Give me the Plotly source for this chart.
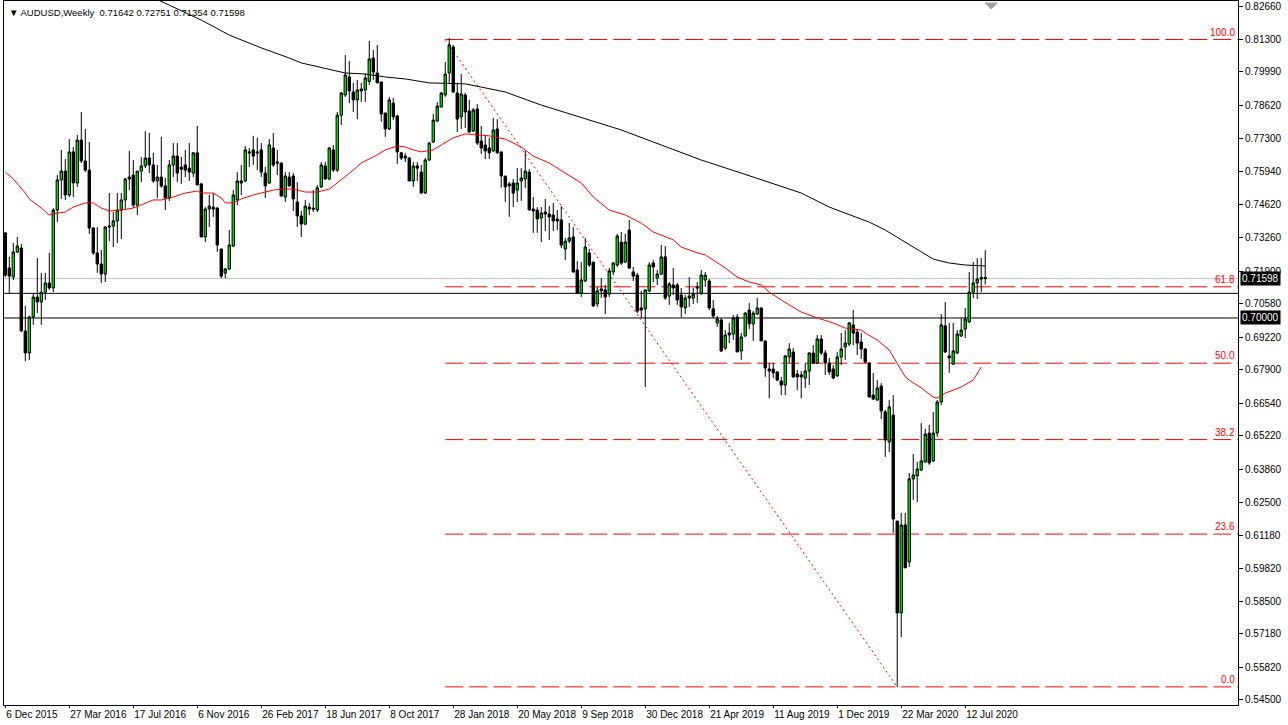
import plotly.graph_objects as go

# ---------------- data (AUDUSD weekly) ----------------
week_index = list(range(246))

opens = [.7345,.7203,.7166,.7268,.7284,.6947,.6858,.7004,.7085,.7065,.7105,.7142,.7122,.7438,.7560,.7596,.7499,.7674,.7548,.7722,
.7637,.7600,.7365,.7264,.7219,.7178,.7369,.7373,.7394,.7438,.7479,.7564,.7580,.7458,.7596,.7617,.7649,.7621,.7556,.7572,
.7536,.7487,.7621,.7657,.7612,.7621,.7608,.7588,.7670,.7544,.7329,.7442,.7450,.7446,.7280,.7182,.7199,.7292,.7479,.7556,
.7556,.7674,.7682,.7674,.7682,.7588,.7548,.7690,.7633,.7629,.7491,.7572,.7576,.7471,.7414,.7381,.7450,.7446,.7438,.7532,
.7617,.7564,.7682,.7600,.7823,.7905,.7978,.7917,.7885,.7921,.7925,.7960,.8055,.7994,.7958,.7832,.7767,.7872,.7820,.7670,
.7649,.7649,.7556,.7617,.7592,.7507,.7641,.7714,.7799,.7856,.7905,.7994,.8100,.7913,.7816,.7905,.7840,.7759,.7848,.7718,
.7702,.7690,.7678,.7767,.7674,.7576,.7544,.7548,.7519,.7556,.7564,.7592,.7442,.7438,.7406,.7422,.7422,.7418,.7402,.7398,
.7280,.7312,.7329,.7195,.7101,.7150,.7264,.7227,.7057,.7110,.7114,.7097,.7187,.7215,.7308,.7227,.7357,.7187,.7174,.7041,
.7037,.7110,.7223,.7162,.7178,.7248,.7089,.7134,.7134,.7093,.7041,.7081,.7081,.7126,.7101,.7154,.7150,.7037,.6980,.6992,
.6878,.6931,.6935,.7004,.6866,.6927,.7032,.6976,.7016,.7041,.6907,.6793,.6793,.6781,.6744,.6728,.6842,.6862,.6773,.6769,
.6756,.6785,.6858,.6817,.6915,.6858,.6817,.6793,.6765,.6842,.6882,.6894,.6972,.6943,.6903,.6874,.6817,.6687,.6667,.6724,
.6619,.6497,.6606,.6176,.5803,.6160,.6010,.6347,.6359,.6383,.6416,.6533,.6420,.6533,.6659,.6968,.6846,.6813,.6858,.6927,
.6955,.6984,.7105,.7142,.7158,.71642]

highs = [.7349,.7248,.7304,.7329,.7300,.7049,.7010,.7101,.7243,.7183,.7183,.7264,.7446,.7580,.7682,.7645,.7726,.7694,.7743,.7836,
.7767,.7714,.7369,.7369,.7276,.7373,.7507,.7430,.7507,.7507,.7568,.7678,.7641,.7596,.7653,.7759,.7751,.7670,.7621,.7735,
.7568,.7641,.7710,.7710,.7653,.7682,.7710,.7674,.7779,.7548,.7450,.7499,.7507,.7450,.7280,.7203,.7357,.7519,.7592,.7621,
.7698,.7690,.7739,.7731,.7710,.7613,.7726,.7751,.7682,.7629,.7592,.7592,.7588,.7552,.7434,.7479,.7467,.7519,.7540,.7633,
.7633,.7694,.7702,.7836,.7917,.8067,.8043,.7954,.7966,.7954,.7994,.8124,.8088,.8108,.7958,.7832,.7897,.7893,.7824,.7674,
.7670,.7653,.7633,.7633,.7621,.7649,.7714,.7828,.7876,.7917,.8039,.8136,.8108,.7954,.7990,.7913,.7885,.7852,.7868,.7779,
.7739,.7731,.7812,.7807,.7674,.7576,.7552,.7564,.7608,.7608,.7678,.7604,.7491,.7450,.7450,.7483,.7454,.7467,.7438,.7454,
.7325,.7386,.7369,.7231,.7227,.7325,.7280,.7227,.7126,.7162,.7134,.7203,.7227,.7341,.7349,.7341,.7398,.7207,.7183,.7110,
.7114,.7227,.7235,.7195,.7296,.7292,.7146,.7203,.7142,.7122,.7093,.7166,.7122,.7146,.7195,.7187,.7158,.7073,.7008,.7000,
.6951,.6980,.7012,.7016,.6939,.7024,.7061,.7028,.7081,.7041,.6907,.6817,.6817,.6785,.6761,.6850,.6898,.6878,.6789,.6785,
.6817,.6862,.6890,.6931,.6931,.6870,.6838,.6809,.6862,.6939,.6951,.6984,.7032,.6955,.6939,.6878,.6821,.6777,.6748,.6736,
.6627,.6667,.6687,.6176,.6209,.6209,.6371,.6448,.6416,.6574,.6550,.6566,.6619,.6667,.7016,.7065,.6980,.6980,.6951,.7000,
.7041,.7187,.7227,.7243,.7243,.72751]

lows = [.7166,.7097,.7154,.7264,.6945,.6825,.6830,.6972,.7020,.6972,.7073,.7114,.7105,.7390,.7483,.7479,.7491,.7491,.7532,.7629,
.7592,.7341,.7256,.7183,.7142,.7146,.7312,.7288,.7304,.7321,.7438,.7519,.7446,.7418,.7552,.7608,.7588,.7548,.7487,.7528,
.7438,.7475,.7572,.7552,.7544,.7572,.7556,.7572,.7540,.7329,.7308,.7369,.7410,.7268,.7162,.7162,.7195,.7288,.7458,.7499,
.7552,.7613,.7621,.7600,.7572,.7487,.7544,.7613,.7580,.7491,.7471,.7532,.7434,.7369,.7329,.7377,.7418,.7430,.7430,.7528,
.7560,.7560,.7592,.7592,.7783,.7897,.7872,.7836,.7807,.7876,.7876,.7945,.7966,.7954,.7796,.7735,.7763,.7803,.7625,.7641,
.7633,.7556,.7532,.7556,.7503,.7503,.7637,.7710,.7796,.7856,.7897,.7954,.7913,.7755,.7767,.7771,.7751,.7755,.7702,.7666,
.7645,.7645,.7674,.7666,.7528,.7471,.7410,.7450,.7471,.7475,.7528,.7438,.7345,.7345,.7308,.7353,.7317,.7353,.7357,.7284,
.7235,.7304,.7183,.7101,.7085,.7146,.7207,.7045,.7045,.7081,.7016,.7085,.7174,.7207,.7215,.7223,.7199,.7150,.7020,.7000,
.6720,.7105,.7146,.7134,.7174,.7073,.7053,.7093,.7053,.7004,.7016,.7045,.7057,.7061,.7093,.7126,.7032,.7000,.6964,.6862,
.6870,.6898,.6911,.6862,.6830,.6923,.6955,.6907,.7012,.6907,.6761,.6675,.6756,.6744,.6687,.6687,.6817,.6756,.6708,.6675,
.6716,.6728,.6813,.6813,.6850,.6769,.6769,.6752,.6761,.6809,.6830,.6886,.6890,.6850,.6834,.6817,.6679,.6667,.6663,.6590,
.6436,.6456,.6128,.5503,.5705,.5986,.5990,.6261,.6253,.6379,.6412,.6404,.6416,.6517,.6647,.6858,.6777,.6809,.6854,.6923,
.6919,.6980,.7081,.7077,.7105,.71354]

closes = [.7174,.7170,.7268,.7292,.6947,.6858,.7004,.7085,.7065,.7105,.7142,.7122,.7438,.7560,.7596,.7499,.7674,.7548,.7722,.7637,
.7600,.7365,.7264,.7219,.7178,.7369,.7373,.7394,.7438,.7479,.7564,.7572,.7458,.7596,.7617,.7649,.7621,.7556,.7572,.7536,
.7487,.7621,.7657,.7588,.7604,.7600,.7592,.7670,.7540,.7329,.7442,.7454,.7442,.7296,.7170,.7199,.7296,.7499,.7556,.7548,
.7682,.7670,.7657,.7670,.7592,.7536,.7702,.7621,.7629,.7495,.7576,.7536,.7483,.7414,.7381,.7454,.7442,.7442,.7528,.7621,
.7564,.7690,.7600,.7823,.7913,.7986,.7921,.7885,.7925,.7929,.7974,.8051,.7998,.7954,.7828,.7767,.7885,.7816,.7674,.7649,
.7657,.7556,.7617,.7608,.7507,.7641,.7710,.7803,.7860,.7913,.7990,.8108,.7917,.7807,.7909,.7836,.7755,.7844,.7710,.7690,
.7678,.7670,.7763,.7670,.7576,.7532,.7536,.7507,.7548,.7568,.7596,.7438,.7434,.7402,.7426,.7430,.7410,.7394,.7394,.7296,
.7312,.7325,.7187,.7101,.7154,.7288,.7215,.7049,.7110,.7118,.7085,.7191,.7223,.7333,.7223,.7308,.7203,.7170,.7028,.7032,
.7114,.7215,.7207,.7178,.7248,.7081,.7138,.7122,.7073,.7045,.7081,.7089,.7097,.7122,.7174,.7174,.7041,.7008,.6996,.6866,
.6931,.6939,.7000,.6862,.6923,.7020,.6976,.7020,.7041,.6907,.6797,.6785,.6777,.6748,.6728,.6846,.6874,.6761,.6761,.6761,
.6785,.6858,.6817,.6915,.6858,.6817,.6781,.6756,.6842,.6874,.6898,.6980,.6939,.6898,.6874,.6821,.6679,.6671,.6716,.6623,
.6505,.6639,.6184,.5803,.6160,.5986,.6347,.6363,.6387,.6420,.6529,.6412,.6533,.6659,.6972,.6862,.6838,.6866,.6935,.6951,
.6996,.7105,.7142,.7158,.7164,.71598]

# moving averages
red_ma_week = [0,2,5,6,9,11,13,15,17,20,22,24,26,29,32,34,37,39,42,45,48,49,52,54,55,57,59,62,64,67,69,72,75,78,81,84,87,89,93,95,
98,100,102,104,107,109,112,115,119,121,125,129,132,136,140,144,147,150,151,155,159,162,164,167,169,173,175,177,180,183,186,189,
191,194,196,199,203,207,210,214,215,218,221,223,225,226,229,232,233,235,239,242,244]
red_ma_value = [.7592,.7564,.7507,.7483,.7446,.7418,.7426,.7430,.7450,.7467,.7467,.7446,.7434,.7438,.7446,.7458,.7479,.7479,.7491,.7507,
.7515,.7507,.7507,.7487,.7467,.7467,.7483,.7499,.7507,.7519,.7523,.7523,.7511,.7511,.7523,.7560,.7600,.7629,.7662,.7682,
.7698,.7694,.7682,.7674,.7682,.7702,.7731,.7747,.7743,.7739,.7726,.7694,.7657,.7629,.7588,.7548,.7491,.7450,.7438,.7418,.7385,.7349,
.7337,.7317,.7288,.7264,.7256,.7235,.7203,.7166,.7146,.7134,.7105,.7073,.7053,.7024,.7000,.6980,.6959,.6951,.6939,.6911,.6870,.6817,
.6761,.6748,.6716,.6679,.6675,.6695,.6720,.6748,.6801]

black_ma_week = [36,41,49,56,64,71,74,85,90,95,100,106,115,119,125,134,144,154,164,174,184,194,199,206,211,216,220,224,228,232,236,240,245]
black_ma_value = [.8307,.8270,.8209,.8148,.8096,.8055,.8035,.7994,.7990,.7978,.7970,.7954,.7950,.7937,.7917,.7864,.7812,.7763,.7702,.7641,
.7588,.7536,.7507,.7450,.7418,.7389,.7357,.7317,.7276,.7239,.7223,.7215,.7211]

date_label_week = [0,16,32,48,64,80,96,112,128,144,160,176,192,208,224,240]
date_labels = ["6 Dec 2015","27 Mar 2016","17 Jul 2016","6 Nov 2016","26 Feb 2017","18 Jun 2017","8 Oct 2017","28 Jan 2018",
               "20 May 2018","9 Sep 2018","30 Dec 2018","21 Apr 2019","11 Aug 2019","1 Dec 2019","22 Mar 2020","12 Jul 2020"]

price_ticks = [0.82660,0.81300,0.79990,0.78620,0.77300,0.75940,0.74620,0.73260,0.71900,0.70580,0.69220,0.67900,
               0.66540,0.65220,0.63860,0.62500,0.61180,0.59820,0.58500,0.57180,0.55820,0.54500]

fib_high = 0.8130
fib_low = 0.5503
fib_start_week = 110
fib_end_week = 223
fib_levels = [0.0, 23.6, 38.2, 50.0, 61.8, 100.0]
fib_labels = ["0.0", "23.6", "38.2", "50.0", "61.8", "100.0"]

level_lines = [0.7100, 0.7000]
bid_price = 0.71598
header = "AUDUSD,Weekly  0.71642 0.72751 0.71354 0.71598"

FONT = "Liberation Sans"

fig = go.Figure()

fig.add_trace(go.Candlestick(
    x=week_index, open=opens, high=highs, low=lows, close=closes,
    increasing=dict(line=dict(color="#000000", width=1), fillcolor="#00e000"),
    decreasing=dict(line=dict(color="#000000", width=1), fillcolor="#000000"),
    whiskerwidth=0, hoverinfo="skip", showlegend=False))

fig.add_trace(go.Scatter(x=red_ma_week, y=red_ma_value, mode="lines",
                         line=dict(color="#ff0000", width=1), hoverinfo="skip", showlegend=False))
fig.add_trace(go.Scatter(x=black_ma_week, y=black_ma_value, mode="lines",
                         line=dict(color="#000000", width=1), hoverinfo="skip", showlegend=False))

shapes = []
for lv in level_lines:
    shapes.append(dict(type="line", xref="paper", x0=0, x1=1, yref="y", y0=lv, y1=lv,
                       line=dict(color="#000000", width=1), layer="below"))
shapes.append(dict(type="line", xref="paper", x0=0, x1=1, yref="y", y0=bid_price, y1=bid_price,
                   line=dict(color="#c0c0c0", width=1), layer="below"))

annotations = []
for lv, lab in zip(fib_levels, fib_labels):
    price = fib_low + lv / 100.0 * (fib_high - fib_low)
    shapes.append(dict(type="line", xref="x", x0=fib_start_week, x1=400, yref="y", y0=price, y1=price,
                       line=dict(color="#ff0000", width=1, dash="18px,6px"), layer="below"))
    annotations.append(dict(xref="paper", x=1, xanchor="right", xshift=-1, yref="y", y=price, yanchor="bottom",
                            text=lab, showarrow=False, font=dict(family=FONT, size=10, color="#ff0000")))
shapes.append(dict(type="line", xref="x", x0=fib_start_week, x1=fib_end_week, yref="y", y0=fib_high, y1=fib_low,
                   line=dict(color="#ff0000", width=1, dash="2px,3px"), layer="below"))

# chart shift marker
shapes.append(dict(type="path", xref="x", yref="paper", xsizemode="pixel", ysizemode="pixel",
                   xanchor=week_index[-1] + 1.5, yanchor=1, path="M -6,-2 L 6,-2 L 0,-8 Z",
                   fillcolor="#a0a0a0", line=dict(color="#a0a0a0", width=1)))

for val, txt in [(bid_price, f"{bid_price:.5f}"), (level_lines[1], f"{level_lines[1]:.5f}")]:
    annotations.append(dict(xref="paper", x=1, xanchor="left", xshift=2, yref="y", y=val, yanchor="middle",
                            text=txt, showarrow=False, bgcolor="#000000", borderpad=1,
                            font=dict(family=FONT, size=10, color="#ffffff")))

annotations.append(dict(xref="paper", x=0, xanchor="left", xshift=3, yref="paper", y=1, yanchor="top", yshift=-4,
                        text="\u25BC " + header, showarrow=False, font=dict(family=FONT, size=9.5, color="#000000")))

fig.update_layout(
    width=1288, height=725,
    margin=dict(l=4, r=50, t=1, b=20),
    paper_bgcolor="#ffffff", plot_bgcolor="#ffffff",
    boxgap=0.15,
    shapes=shapes, annotations=annotations,
    font=dict(family=FONT, size=10, color="#000000"),
    xaxis=dict(range=[-0.325, 308.2], showgrid=False, zeroline=False, showline=True, linecolor="#000000",
               linewidth=1, mirror=True, ticks="outside", ticklen=2, tickcolor="#000000",
               tickvals=date_label_week, ticktext=date_labels, ticklabelposition="outside right", tickangle=0,
               tickfont=dict(family=FONT, size=10, color="#000000"), rangeslider=dict(visible=False)),
    yaxis=dict(range=[0.54295, 0.82863], side="right", showgrid=False, zeroline=False, showline=True,
               linecolor="#000000", linewidth=1, mirror=True, ticks="outside", ticklen=4, tickcolor="#000000",
               tickvals=price_ticks, ticktext=[f"{v:.5f}" for v in price_ticks],
               tickfont=dict(family=FONT, size=10, color="#000000")),
)

fig.write_html("out.html", config={"displayModeBar": False, "staticPlot": True},
               post_script="document.body.style.margin='0';document.body.style.overflow='hidden';")
